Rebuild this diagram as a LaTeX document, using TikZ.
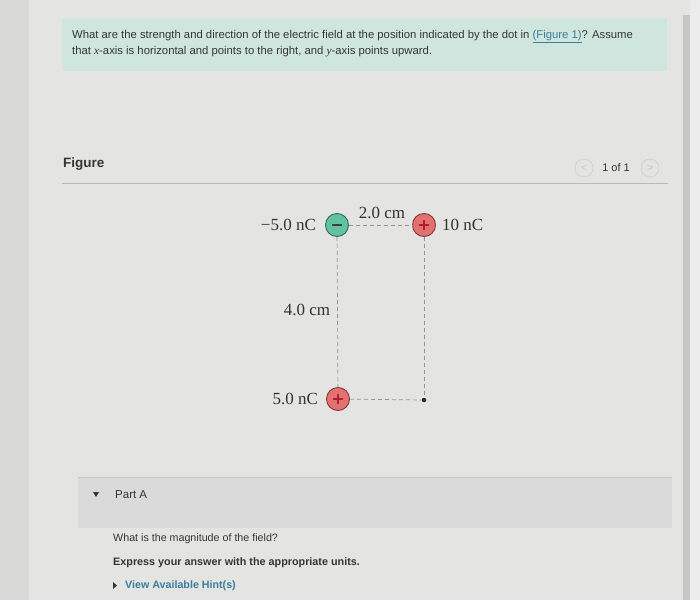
\documentclass[tikz,border=0pt]{standalone}
\usepackage{fontspec}
\setmainfont{Liberation Serif}
\newfontfamily\uisans{Liberation Sans}
\definecolor{bgmain}{HTML}{E4E4E3}
\definecolor{bgleft}{HTML}{D9D9D8}
\definecolor{boxteal}{HTML}{CFE6DE}
\definecolor{uigray}{HTML}{353535}
\definecolor{linkcol}{HTML}{3A7E9E}
\definecolor{bandgray}{HTML}{DADADA}
\definecolor{neggreen}{HTML}{63C2A2}
\definecolor{neggreendark}{HTML}{2E6E5A}
\definecolor{posred}{HTML}{E27272}
\definecolor{posreddark}{HTML}{8E3434}
\definecolor{posredtext}{HTML}{B01E2A}
\begin{document}
\begin{tikzpicture}[x=1pt,y=-1pt,
  uitext/.style={font=\uisans\fontsize{11.3}{13}\selectfont, text=uigray, anchor=west, inner sep=0},
  charge/.style={circle, minimum size=23pt, inner sep=0, line width=0.9pt},
  negcharge/.style={charge, fill=neggreen, draw=neggreendark},
  poscharge/.style={charge, fill=posred, draw=posreddark},
  signline/.style={line width=1.4pt, line cap=round},
  lbl/.style={font=\fontsize{17}{17}\selectfont, text=black!80, inner sep=0},
  dimline/.style={dash pattern=on 4pt off 3pt, draw=gray!85, line width=0.7pt},
  pagebtn/.style={circle, draw=gray!35, line width=0.8pt, minimum size=18pt, inner sep=0, text=gray!45, font=\uisans\fontsize{11}{11}\selectfont}
]
\useasboundingbox (0,0) rectangle (700,604);
% background
\fill[bgmain] (0,0) rectangle (700,604);
\fill[bgleft] (0,0) rectangle (29,604);
\fill[gray!45] (683,15) rectangle (690,600);
\fill[gray!15] (690,0) rectangle (700,604);
\fill[white] (0,600) rectangle (700,604);

% question box
\fill[boxteal] (62,18) rectangle (667,71);
\node[uitext] (q1) at (72,37) {What are the strength and direction of the electric field at the position indicated by the dot in {\color{linkcol}\underline{(Figure 1)}}? Assume};
\node[uitext] (q2) at (72,52) {that {\fontspec{Liberation Serif}\itshape x}-axis is horizontal and points to the right, and {\fontspec{Liberation Serif}\itshape y}-axis points upward.};

% figure header
\node[font=\uisans\bfseries\fontsize{13.5}{15}\selectfont, text=uigray, anchor=west, inner sep=0] (fig) at (63,164) {Figure};
\draw[gray!55, line width=0.6pt] (62,183) -- (668,183);
\node[pagebtn] (prev) at (584,168) {<};
\node[pagebtn] (next) at (650,168) {>};
\node[font=\uisans\fontsize{11}{12}\selectfont, text=uigray, inner sep=0] (pg) at (616,168) {1 of 1};

% diagram
\node[negcharge] (qa) at (337,225) {};
\node[poscharge] (qb) at (424,225) {};
\node[poscharge] (qc) at (338,399) {};
\node[circle, fill=black!85, minimum size=4.5pt, inner sep=0] (pt) at (424,400) {};
\draw[signline, black!75] ([xshift=-4.5pt]qa.center) -- ([xshift=4.5pt]qa.center);
\draw[signline, posredtext] ([xshift=-4.5pt]qb.center) -- ([xshift=4.5pt]qb.center);
\draw[signline, posredtext] ([yshift=-4.5pt]qb.center) -- ([yshift=4.5pt]qb.center);
\draw[signline, posredtext] ([xshift=-4.5pt]qc.center) -- ([xshift=4.5pt]qc.center);
\draw[signline, posredtext] ([yshift=-4.5pt]qc.center) -- ([yshift=4.5pt]qc.center);
\draw[dimline] (qa) -- (qb);
\draw[dimline] (qa) -- (qc);
\draw[dimline] (qb) -- (pt);
\draw[dimline] (qc) -- (pt);
\node[lbl, anchor=east] (la) at ([xshift=-9pt]qa.west) {−5.0 nC};
\node[lbl, anchor=west] (lb) at ([xshift=6pt]qb.east) {10 nC};
\node[lbl, anchor=east] (lc) at ([xshift=-8pt]qc.west) {5.0 nC};
\node[lbl] (d1) at (382,213) {2.0 cm};
\node[lbl] (d2) at (307,310) {4.0 cm};

% part A
\fill[bandgray] (78,477) rectangle (672,528);
\draw[gray!45, line width=0.6pt] (78,477) -- (672,477);
\fill[uigray] (93,492) -- (99,492) -- (96,497) -- cycle;
\node[font=\uisans\fontsize{11.5}{13}\selectfont, text=uigray, anchor=west, inner sep=0] (pa) at (115,495) {Part A};
\node[font=\uisans\fontsize{10.7}{12}\selectfont, text=uigray, anchor=west, inner sep=0] (t1) at (113,539) {What is the magnitude of the field?};
\node[font=\uisans\bfseries\fontsize{10.8}{12}\selectfont, text=uigray, anchor=west, inner sep=0] (t2) at (113,563) {Express your answer with the appropriate units.};
\fill[uigray] (113,582) -- (117,585.5) -- (113,589) -- cycle;
\node[font=\uisans\bfseries\fontsize{10.7}{12}\selectfont, text=linkcol, anchor=west, inner sep=0] (t3) at (125,586) {View Available Hint(s)};
\end{tikzpicture}
\end{document}
